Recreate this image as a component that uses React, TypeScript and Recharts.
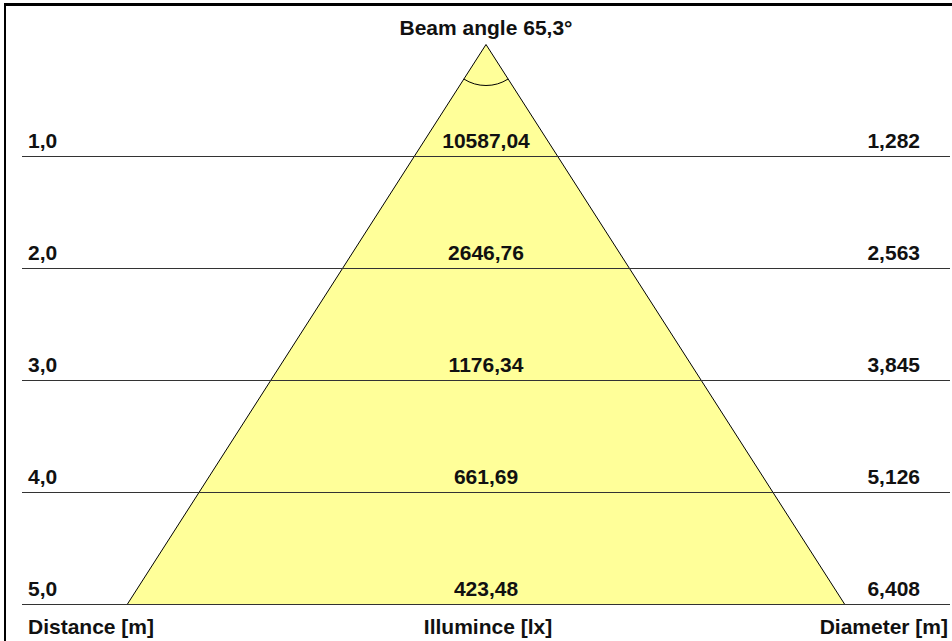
import React from "react";
import {
  Area,
  ComposedChart,
  ReferenceDot,
  ReferenceLine,
  XAxis,
  YAxis,
} from "recharts";

// distances from the lamp [m]
const distances = [1, 2, 3, 4, 5];
const distanceLabels = ["1,0", "2,0", "3,0", "4,0", "5,0"];
// illuminance at each distance [lx]
const illuminanceLabels = ["10587,04", "2646,76", "1176,34", "661,69", "423,48"];
// light cone diameter at each distance [m]
const diameters = [1.282, 2.563, 3.845, 5.126, 6.408];
const diameterLabels = ["1,282", "2,563", "3,845", "5,126", "6,408"];
const beamAngleTitle = "Beam angle 65,3°";
const footerLabels = ["Distance [m]", "Illumince [lx]", "Diameter [m]"];

// half width of the drawing in metres (sideways)
const X_HALF = 4.143;
const FONT = "'Liberation Sans', Arial, sans-serif";

// cone outline: left edge (bottom -> apex) then right edge (apex -> bottom)
const cone = [
  ...distances.map((d, i) => ({ x: -diameters[i] / 2, d })).reverse(),
  { x: 0, d: 0 },
  ...distances.map((d, i) => ({ x: diameters[i] / 2, d })),
];

const txt = {
  fontFamily: FONT,
  fontWeight: 700,
  fontSize: 21,
  fill: "#111",
};

const RowLabel = function (props: any) {
  const { viewBox, index } = props;
  const { x, y, width } = viewBox;
  const last = index === distances.length - 1;
  return (
    <g>
      <text x={x + 6} y={y - 9} style={txt}>
        {distanceLabels[index]}
      </text>
      <text x={x + width / 2} y={y - 9} textAnchor="middle" style={txt}>
        {illuminanceLabels[index]}
      </text>
      <text x={x + width - 30} y={y - 9} textAnchor="end" style={txt}>
        {diameterLabels[index]}
      </text>
      {last && (
        <g>
          <text x={x + 6} y={y + 29} style={txt}>
            {footerLabels[0]}
          </text>
          <text x={x + width / 2 + 2} y={y + 29} textAnchor="middle" style={txt}>
            {footerLabels[1]}
          </text>
          <text x={x + width - 2} y={y + 29} textAnchor="end" style={txt}>
            {footerLabels[2]}
          </text>
        </g>
      )}
    </g>
  );
};

// arc marking the beam angle at the apex, plus the title above it
const Apex = function (props: any) {
  const { cx, cy, r } = props;
  const last = distances.length - 1;
  const half = Math.atan(diameters[last] / 2 / distances[last]);
  const sx = cx - r * Math.sin(half);
  const ex = cx + r * Math.sin(half);
  const ey = cy + r * Math.cos(half);
  return (
    <g>
      <path
        d={`M${sx},${ey} A${r},${r} 0 0 0 ${ex},${ey}`}
        fill="none"
        stroke="#000"
        strokeWidth={1}
      />
      <text x={cx} y={cy - 9.5} textAnchor="middle" style={txt}>
        {beamAngleTitle}
      </text>
    </g>
  );
};

const BeamChart = function () {
  return (
    <div
      style={{
        position: "absolute",
        left: 0,
        top: 0,
        width: 952,
        height: 641,
        background: "#fff",
        overflow: "hidden",
      }}
    >
      <div
        style={{
          position: "absolute",
          left: 4,
          top: 3,
          width: 948,
          height: 638,
          borderTop: "3px solid #000",
          borderLeft: "2px solid #000",
          boxSizing: "border-box",
        }}
      />
      <div style={{ position: "absolute", left: 0, top: 0 }}>
        <ComposedChart
          width={952}
          height={641}
          data={cone}
          margin={{ top: 44.5, right: 2, bottom: 36.5, left: 22 }}
        >
          <XAxis
            type="number"
            dataKey="x"
            domain={[-X_HALF, X_HALF]}
            hide
          />
          <YAxis type="number" domain={[0, 5]} reversed hide />
          <Area
            type="linear"
            dataKey="d"
            baseValue={5}
            stroke="#000"
            strokeWidth={1}
            fill="#FFFF99"
            fillOpacity={1}
            dot={false}
            activeDot={false}
            isAnimationActive={false}
          />
          {distances.map((d, i) => (
            <ReferenceLine
              key={d}
              y={d}
              stroke="#333"
              strokeWidth={1}
              label={<RowLabel index={i} />}
            />
          ))}
          <ReferenceDot
            x={0}
            y={0}
            r={41}
            shape={<Apex />}
          />
        </ComposedChart>
      </div>
    </div>
  );
};

export default function App() {
  return <BeamChart />;
}
